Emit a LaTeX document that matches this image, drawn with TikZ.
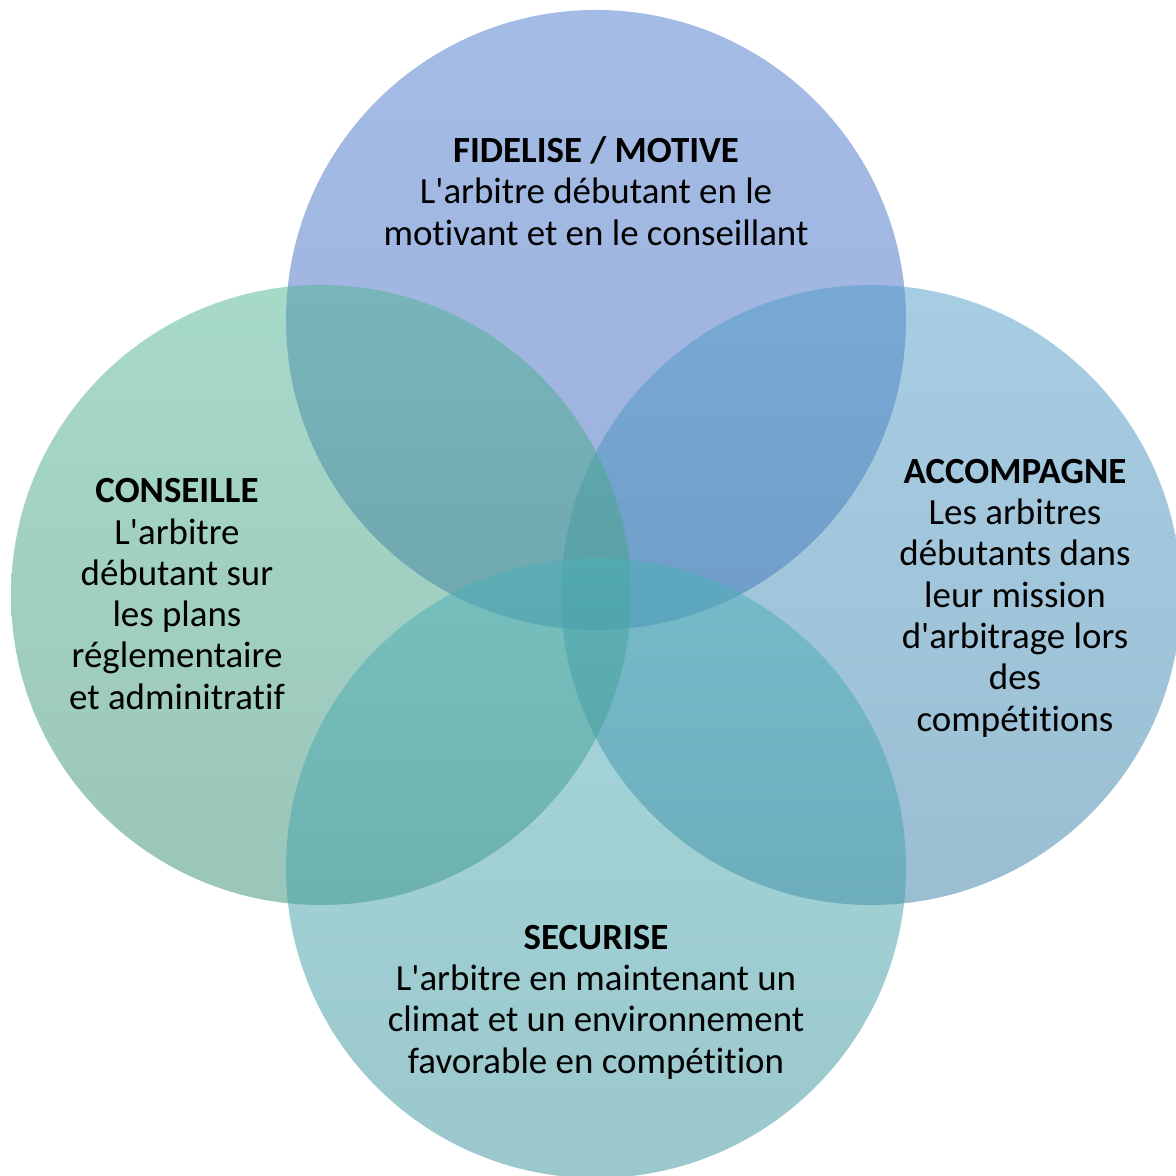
\documentclass[tikz,border=0pt]{standalone}
\usepackage{fontspec}
\setmainfont{Carlito}[Ligatures=NoCommon]
\usepackage{xcolor}
\usepackage{tikz}
\usetikzlibrary{calc,positioning}
\definecolor{fidTop}{RGB}{73,121,205}
\definecolor{fidBot}{RGB}{61,101,185}
\definecolor{conTop}{RGB}{81,181,149}
\definecolor{conBot}{RGB}{55,141,117}
\definecolor{accTop}{RGB}{81,157,201}
\definecolor{accBot}{RGB}{55,125,165}
\definecolor{secTop}{RGB}{77,177,185}
\definecolor{secBot}{RGB}{55,145,155}
\newcommand{\ap}{\textquotesingle}
\tikzset{
  ring/.style={circle, draw=none, minimum size=6.2cm, inner sep=0pt, fill opacity=0.5},
  ringFid/.style={ring, top color=fidTop, bottom color=fidBot},   % top circle
  ringCon/.style={ring, top color=conTop, bottom color=conBot},   % left circle
  ringAcc/.style={ring, top color=accTop, bottom color=accBot},   % right circle
  ringSec/.style={ring, top color=secTop, bottom color=secBot},   % bottom circle
  label/.style={align=center, text=black, inner sep=0pt,
    font=\fontsize{10.5pt}{11.75pt}\selectfont}
}
\begin{document}
\begin{tikzpicture}
  \fill[white] (0,0) rectangle (11.76,11.76);
  \useasboundingbox (0,0) rectangle (11.76,11.76);
  % the four circles
  \node[ringFid] (fid) at (5.96,8.56) {};
  \node[ringAcc] (acc) at (8.71,5.81) {};
  \node[ringCon] (con) at (3.21,5.81) {};
  \node[ringSec] (sec) at (5.96,3.08) {};
  % texts
  \node[label] (fidTxt) at ($(fid)+(0,1.29)$)
    {\textbf{FIDELISE / MOTIVE}\\L\ap arbitre débutant en le\\motivant et en le conseillant};
  \node[label] (conTxt) at ($(con)+(-1.44,0.01)$)
    {\textbf{CONSEILLE}\\L\ap arbitre\\débutant sur\\les plans\\réglementaire\\et adminitratif};
  \node[label] (accTxt) at ($(acc)+(1.44,-0.03)$)
    {\textbf{ACCOMPAGNE}\\Les arbitres\\débutants dans\\leur mission\\d\ap arbitrage lors\\des\\compétitions};
  \node[label] (secTxt) at ($(sec)+(0,-1.34)$)
    {\textbf{SECURISE}\\L\ap arbitre en maintenant un\\climat et un environnement\\favorable en compétition};
\end{tikzpicture}
\end{document}
